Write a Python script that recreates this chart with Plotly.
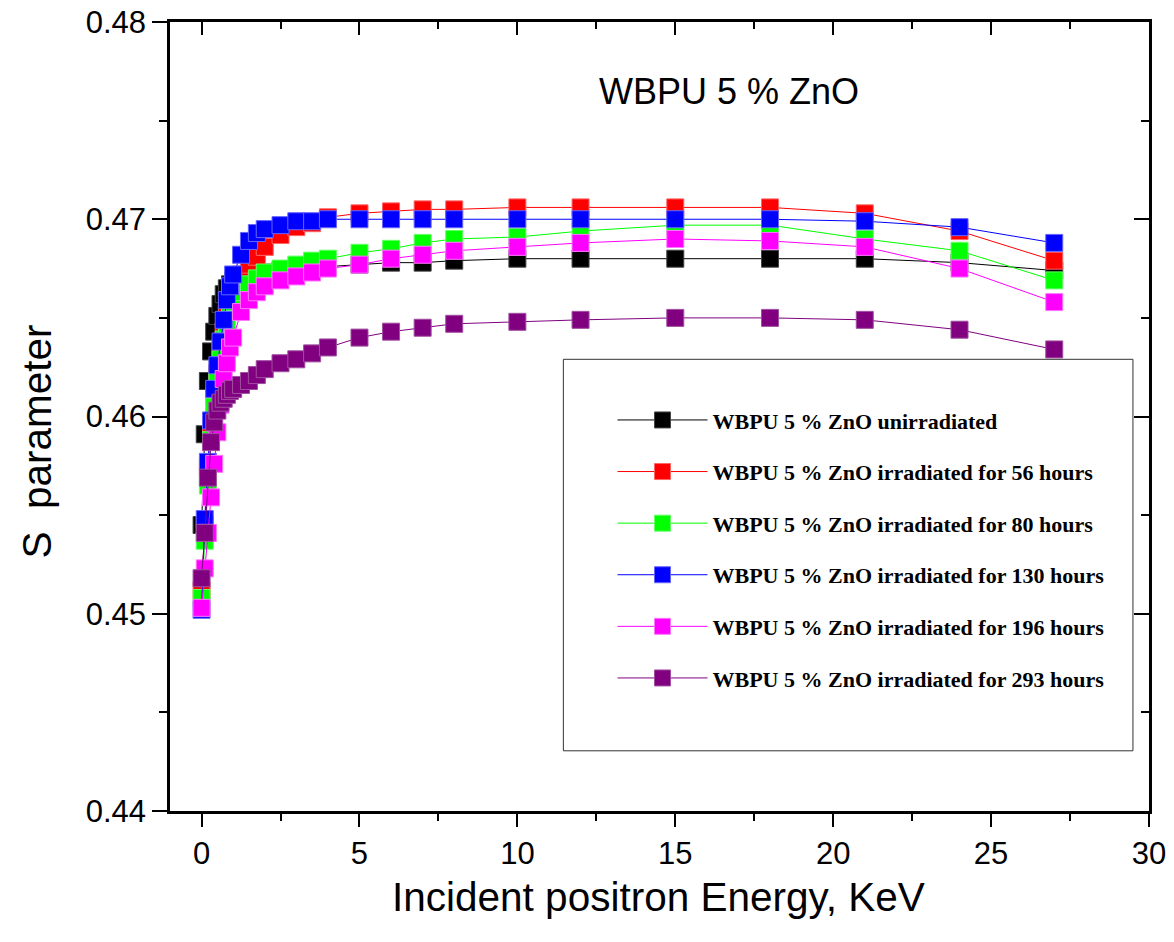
import plotly.graph_objects as go

energy = [0.0, 0.1, 0.2, 0.3, 0.4, 0.5, 0.6, 0.7, 0.8, 0.9, 1.0, 1.25, 1.5, 1.75, 2.0,
          2.5, 3.0, 3.5, 4.0, 5, 6, 7, 8, 10, 12, 15, 18, 21, 24, 27]

s_unirr = [0.4545, 0.4591, 0.4618, 0.4633, 0.4643, 0.4651, 0.4657, 0.4662, 0.4665, 0.4667,
           0.4669, 0.4670, 0.4671, 0.4672, 0.4673, 0.4674, 0.4675, 0.4675, 0.4676,
           0.4677, 0.4678, 0.4678, 0.4679, 0.4680, 0.4680, 0.4680, 0.4680, 0.4680, 0.4678, 0.4674]
s_56h = [0.4512, 0.4545, 0.4574, 0.4595, 0.4610, 0.4622, 0.4633, 0.4643, 0.4652, 0.4659,
         0.4665, 0.4672, 0.4677, 0.4681, 0.4686, 0.4692, 0.4696, 0.4698, 0.4701,
         0.4703, 0.4704, 0.4705, 0.4705, 0.4706, 0.4706, 0.4706, 0.4706, 0.4703, 0.4694, 0.4679]
s_80h = [0.4508, 0.4537, 0.4565, 0.4588, 0.4605, 0.4618, 0.4629, 0.4639, 0.4647, 0.4653,
         0.4658, 0.4663, 0.4667, 0.4670, 0.4673, 0.4675, 0.4677, 0.4679, 0.4680,
         0.4683, 0.4685, 0.4688, 0.4690, 0.4691, 0.4694, 0.4697, 0.4697, 0.4690, 0.4684, 0.4669]
s_130h = [0.4502, 0.4548, 0.4577, 0.4598, 0.4614, 0.4626, 0.4638, 0.4649, 0.4659, 0.4666,
          0.4672, 0.4682, 0.4689, 0.4693, 0.4695, 0.4697, 0.4699, 0.4699, 0.4700,
          0.4700, 0.4700, 0.4700, 0.4700, 0.4700, 0.4700, 0.4700, 0.4700, 0.4699, 0.4696, 0.4688]
s_196h = [0.4503, 0.4523, 0.4541, 0.4559, 0.4576, 0.4592, 0.4606, 0.4619, 0.4627, 0.4635,
          0.4640, 0.4653, 0.4659, 0.4663, 0.4666, 0.4669, 0.4671, 0.4673, 0.4675,
          0.4677, 0.4680, 0.4682, 0.4684, 0.4686, 0.4688, 0.4690, 0.4689, 0.4686, 0.4675, 0.4658]
s_293h = [0.4518, 0.4541, 0.4569, 0.4587, 0.4597, 0.4603, 0.4607, 0.4609, 0.4611, 0.4613,
          0.4614, 0.4616, 0.4618, 0.4621, 0.4624, 0.4627, 0.4629, 0.4632, 0.4635,
          0.4640, 0.4643, 0.4645, 0.4647, 0.4648, 0.4649, 0.4650, 0.4650, 0.4649, 0.4644, 0.4634]

series_names = [
    "WBPU 5 % ZnO unirradiated",
    "WBPU 5 % ZnO irradiated for 56 hours",
    "WBPU 5 % ZnO irradiated for 80 hours",
    "WBPU 5 % ZnO irradiated for 130 hours",
    "WBPU 5 % ZnO irradiated for 196 hours",
    "WBPU 5 % ZnO irradiated for 293 hours",
]
series_values = [s_unirr, s_56h, s_80h, s_130h, s_196h, s_293h]
colors = ["#000000", "#FF0000", "#00FF00", "#0000FF", "#FF00FF", "#800080"]
edge_colors = ["#444444", "#FF6666", "#66FF66", "#6666FF", "#FF77FF", "#A050A0"]

fig = go.Figure()
for i, (name, vals) in enumerate(zip(series_names, series_values)):
    fig.add_trace(go.Scatter(
        x=energy, y=vals, name=name, mode="lines+markers",
        line=dict(color=colors[i], width=1),
        marker=dict(symbol="square", size=17, color=colors[i],
                    line=dict(color=edge_colors[i], width=1)),
        legendgroup=f"g{i}",
    ))

# mirror axes (top / right) with inward ticks
fig.add_trace(go.Scatter(x=[], y=[], xaxis="x2", yaxis="y2", showlegend=False, hoverinfo="skip"))

axis_font = dict(family="Liberation Sans, Arial, sans-serif", size=31, color="black")
title_font = dict(family="Liberation Sans, Arial, sans-serif", size=40.5, color="black")

fig.update_layout(
    width=1174, height=942,
    margin=dict(l=170, r=25, t=22, b=131, autoexpand=False),
    paper_bgcolor="white", plot_bgcolor="white",
    showlegend=True,
    xaxis=dict(range=[-1, 30], dtick=5, tick0=0, showgrid=False, zeroline=False,
               showline=True, linecolor="black", linewidth=2.5, automargin=False,
               ticks="outside", ticklen=13, tickwidth=2, tickcolor="black",
               minor=dict(ticks="outside", ticklen=7, tickwidth=2, dtick=2.5, tick0=0, tickcolor="black"),
               tickfont=axis_font),
    yaxis=dict(range=[0.44, 0.48], dtick=0.01, tick0=0.44, tickformat=".2f",
               showgrid=False, zeroline=False, automargin=False,
               showline=True, linecolor="black", linewidth=2.5,
               ticks="outside", ticklen=15, tickwidth=2, tickcolor="black",
               minor=dict(ticks="outside", ticklen=8, tickwidth=2, dtick=0.005, tick0=0.44, tickcolor="black"),
               tickfont=axis_font),
    xaxis2=dict(overlaying="x", side="top", range=[-1, 30], dtick=5, tick0=0,
                showgrid=False, zeroline=False, showticklabels=False, automargin=False,
                showline=True, linecolor="black", linewidth=2.5,
                ticks="inside", ticklen=13, tickwidth=2, tickcolor="black",
                minor=dict(ticks="inside", ticklen=7, tickwidth=2, dtick=2.5, tick0=0, tickcolor="black")),
    yaxis2=dict(overlaying="y", side="right", range=[0.44, 0.48], dtick=0.01, tick0=0.44,
                showgrid=False, zeroline=False, showticklabels=False, automargin=False,
                showline=True, linecolor="black", linewidth=2.5,
                ticks="inside", ticklen=15, tickwidth=2, tickcolor="black",
                minor=dict(ticks="inside", ticklen=8, tickwidth=2, dtick=0.005, tick0=0.44, tickcolor="black")),
    legend=dict(x=0.452, y=0.522, xanchor="left", yanchor="top",
                bgcolor="rgba(0,0,0,0)", borderwidth=0,
                font=dict(family="Liberation Serif, Times New Roman, serif", size=22,
                          color="black", weight="bold"),
                tracegroupgap=20, itemwidth=90),
    shapes=[dict(type="rect", xref="paper", yref="paper",
                 x0=0.4018, x1=0.9836, y0=0.0763, y1=0.5725,
                 line=dict(color="#333333", width=1), fillcolor="rgba(0,0,0,0)", layer="above")],
    annotations=[
        dict(text="WBPU 5 % ZnO", xref="paper", yref="paper",
             x=0.5706, y=0.9122, xanchor="center", yanchor="middle", showarrow=False,
             font=dict(family="Liberation Sans, Arial, sans-serif", size=36, color="black")),
        dict(text="Incident positron Energy, KeV", xref="paper", yref="paper",
             x=0.4985, y=-0.1095, xanchor="center", yanchor="middle", showarrow=False,
             font=title_font),
        dict(text="S  parameter", xref="paper", yref="paper", textangle=-90,
             x=-0.136, y=0.468, xanchor="center", yanchor="middle", showarrow=False,
             font=title_font),
    ],
)

fig.write_html("out.html")
